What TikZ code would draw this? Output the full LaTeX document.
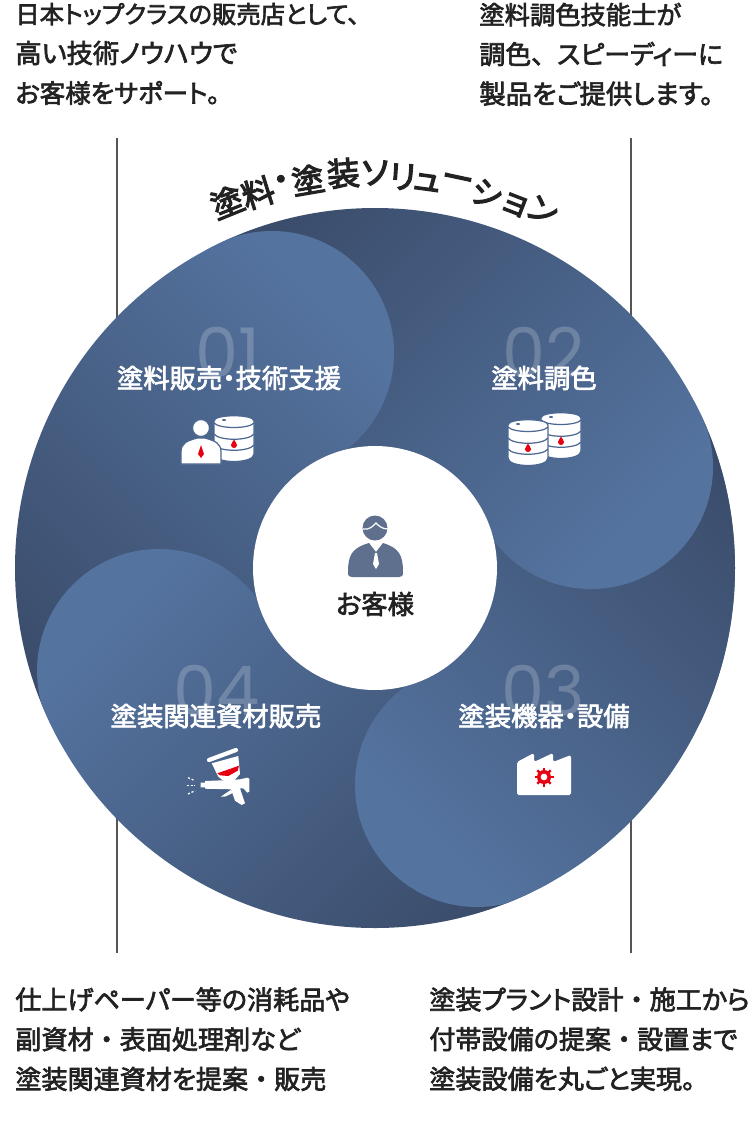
\documentclass[tikz,border=0pt]{standalone}
\usepackage{fontspec}
\setmainfont{Noto Sans CJK JP}[RawFeature=+palt,FakeBold=2.5]
\newfontfamily\fullfont{Noto Sans CJK JP}[FakeBold=2.5]
\newfontfamily\titlefont{Noto Sans CJK JP}[RawFeature=+palt,FakeBold=3.5]
\newfontfamily\numfont{Poppins}
\usetikzlibrary{positioning}
\definecolor{cLight}{HTML}{54739F}
\definecolor{cDark}{HTML}{3A4B69}
\definecolor{cIcon}{HTML}{4C6892}
\definecolor{cGuest}{HTML}{5F6F8E}
\definecolor{cTxt}{HTML}{222222}
\definecolor{cRule}{HTML}{555555}
\definecolor{cRed}{HTML}{E60012}
\pgfdeclareverticalshading{petal}{100bp}{color(0bp)=(cDark); color(28bp)=(cDark); color(60bp)=(cLight); color(100bp)=(cLight)}
\tikzset{
  x=0.02cm, y=-0.02cm,
  blurb/.style={anchor=north west, align=left, inner sep=0pt, text=cTxt,
                font=\fontsize{14.85}{22.6}\selectfont},
  svc/.style={text=white, inner sep=0pt, font=\fontsize{15}{18}\selectfont},
  num/.style={text=white, text opacity=0.2, inner sep=0pt, font=\numfont\fontsize{39}{39}\selectfont},
  arcch/.style={text=cTxt, inner sep=0pt, font=\titlefont\fontsize{18.5}{19}\selectfont},
  rulel/.style={draw=cRule, line width=0.9pt},
  icnline/.style={draw=cIcon, line width=0.7pt},
}
\newcommand{\dt}{{\fullfont ・}}
\newcommand{\cm}{{\fullfont 、}}
\newcommand{\sz}[1]{\fontsize{#1}{22.6}\selectfont}
% fill a region with the gradient turned by the given angle
\newcommand{\region}[2]{%
  \begin{scope}
    \clip #1;
    \shade[shading=petal, shading angle=#2] (-5,188) rectangle (755,948);
  \end{scope}}
% oil drum, top centre at (#1,#2)
\newcommand{\drum}[2]{%
  \begin{scope}[shift={(#1,#2)}]
    \filldraw[icnline, fill=white] (-20,0) .. controls (-20,-7) and (20,-7) .. (20,0) -- (20,33)
      .. controls (20,43) and (-20,43) .. (-20,33) -- cycle;
    \draw[icnline] (-20,2) .. controls (-15,8) and (15,8) .. (20,2);
    \draw[icnline] (-20,13) .. controls (-15,20) and (15,20) .. (20,13);
    \draw[icnline] (-20,24) .. controls (-15,31) and (15,31) .. (20,24);
    \fill[cIcon] (-10,-1) ellipse (2 and 1);
    \fill[cRed] (0,18.5) .. controls (1,21) and (3,22) .. (3,24)
      .. controls (3,28) and (-3,28) .. (-3,24) .. controls (-3,22) and (-1,21) .. (0,18.5);
  \end{scope}}
\begin{document}
\begin{tikzpicture}
  \useasboundingbox (0,0) rectangle (750,1130);
  \coordinate (rulea) at (117,138);
  \coordinate (ruleb) at (117,953);
  \coordinate (rulec) at (631,138);
  \coordinate (ruled) at (631,953);
  \draw[rulel] (rulea) -- (ruleb);
  \draw[rulel] (rulec) -- (ruled);
  \begin{scope}
    \clip (375,568) circle[radius=360];
    \region{(375,568) -- (66,-77) -- (-582,232) -- (-273,877) -- cycle}{-45}
    \region{(375,568) -- (1023,877) -- (1332,232) -- (66,-77) -- cycle}{225}
    \region{(375,568) -- (684,1213) -- (1332,922) -- (1023,259) -- cycle}{135}
    \region{(375,568) -- (-273,877) -- (36,1522) -- (684,1213) -- cycle}{45}
    \region{(272,353) circle[radius=122]}{-45}
    \region{(591,467) circle[radius=122]}{225}
    \region{(477,785) circle[radius=122]}{135}
    \region{(159,671) circle[radius=122]}{45}
  \end{scope}
  \node[circle, fill=white, minimum size=4.88cm, inner sep=0pt] (guestdisc) at (375,568) {};
  % title on the arc
  \foreach \i/\ang/\rad/\ch in {1/-22/395/塗, 2/-17.3/393/料, 3/-13.6/396/・, 4/-9.8/394/塗, 5/-4.6/396/装,
      6/0/395/ソ, 7/4/392/リ, 8/7.7/389/ュ, 9/12/394/ー, 10/16.6/391/シ, 11/21.1/389/ョ, 12/25.1/395/ン}
    \node[arcch, rotate=-\ang] (title\i) at ({375+\rad*sin(\ang)},{568-\rad*cos(\ang)}) {\ch};
  % top and bottom texts
  \node[blurb] (texta) at (15,2.5) {\sz{13.85}日本トップクラスの販売店として、\\\sz{15}高い技術ノウハウで\\\sz{14.5}お客様をサポート。};
  \node[blurb] (textb) at (479,2.5) {\sz{14.4}塗料調色技能士が\\\sz{14.75}調色\cm スピーディーに\\\sz{15}製品をご提供します。};
  \node[blurb] (textc) at (15,987) {仕上げペーパー等の消耗品や\\副資材\dt 表面処理剤など\\塗装関連資材を提案\dt 販売};
  \node[blurb] (textd) at (429,987) {塗装プラント設計\dt 施工から\\付帯設備の提案\dt 設置まで\\塗装設備を丸ごと実現。};
  % numbers and service names
  \node[num] (numa) at (228,352) {01};
  \node[num] (numb) at (544,352) {02};
  \node[num] (numc) at (543,690) {03};
  \node[num] (numd) at (217,690) {04};
  \node[svc] (svca) at (229,378) {塗料販売・技術支援};
  \node[svc] (svcb) at (544,378) {塗料調色};
  \node[svc] (svcc) at (544,716) {塗装機器・設備};
  \node[svc] (svcd) at (216,716) {塗装関連資材販売};
  \node[text=cTxt, inner sep=0pt, font=\fontsize{15}{18}\selectfont] (guest) at (375,604) {お客様};
  % guest icon
  \fill[cGuest] (375,528) circle[radius=12.5];
  \draw[white, line width=0.7pt] (363,529) .. controls (370,530) and (373,526) .. (376,523)
     .. controls (379,526) and (382,529) .. (388,529);
  \fill[cGuest] (348,572) .. controls (348,555) and (352,548) .. (369,543) -- (376,552) -- (383,543)
     .. controls (399,548) and (403,555) .. (403,572) .. controls (403,576) and (402,577) .. (399,577)
     -- (352,577) .. controls (349,577) and (348,576) .. (348,572) -- cycle;
  \fill[white] (375,553) -- (377,553) -- (379,564) -- (376,569) -- (373,564) -- cycle;
  % person with drum
  \drum{234}{421}
  \filldraw[icnline, fill=white] (201,428) circle[radius=8.5];
  \filldraw[icnline, fill=white] (181,452) .. controls (181,443) and (187,441) .. (197,438) -- (205,438)
     .. controls (215,441) and (221,443) .. (221,452) -- (221,464) -- (181,464) -- cycle;
  \fill[cRed] (201,445) -- (204,454) -- (201,458) -- (198,454) -- cycle;
  % two drums
  \drum{561}{418}
  \drum{528}{425}
  % factory
  \fill[white, rounded corners=1pt] (517,762) -- (534,753) -- (534,762) -- (553,753) -- (553,762)
     -- (571,755) -- (571,795) -- (517,795) -- cycle;
  \fill[cRed, even odd rule] (544,777) circle[radius=3.5] (544,777) circle[radius=7];
  \foreach \a in {0,45,...,315}
    \draw[cRed, line width=1.3pt] ({544+6*cos(\a)},{777+6*sin(\a)}) -- ({544+9.5*cos(\a)},{777+9.5*sin(\a)});
  % spray gun
  \draw[white, line width=2.4pt, line cap=round] (209,760) -- (236,750);
  \fill[white] (211.7,763.3) -- (238.3,756) -- (240,774) -- (234,780.7) -- (223.3,780.7) -- (218.3,776.7) -- cycle;
  \fill[cRed] (217.3,773.3) -- (239,765.7) -- (237.7,770.7) -- (228.3,776) -- (220,775.3) -- cycle;
  \fill[white] (200.7,782.7) -- (205,782.7) -- (205,781) -- (230,780) -- (240,779.3) -- (247.3,777.7)
    -- (249.3,778.7) -- (249.3,791.7) -- (247.3,792.7) -- (243.3,788.3) -- (240,788.3) -- (245,803.3)
    -- (241.7,805) -- (235,800.7) -- (231,789.3) -- (205,788.7) -- (205,787.3) -- (200.7,787.3) -- cycle;
  \fill[white] (230.7,790) -- (220.7,796.7) -- (225,796.7) -- (233.3,792.7) -- cycle;
  \draw[white, line width=0.7pt, dash pattern=on 1.2pt off 1pt] (188,777.7) -- (195,780.7);
  \draw[white, line width=0.7pt, dash pattern=on 1.2pt off 1pt] (186.7,785.7) -- (195,785.7);
  \draw[white, line width=0.7pt, dash pattern=on 1.2pt off 1pt] (188,794) -- (195,790.7);
\end{tikzpicture}
\end{document}
